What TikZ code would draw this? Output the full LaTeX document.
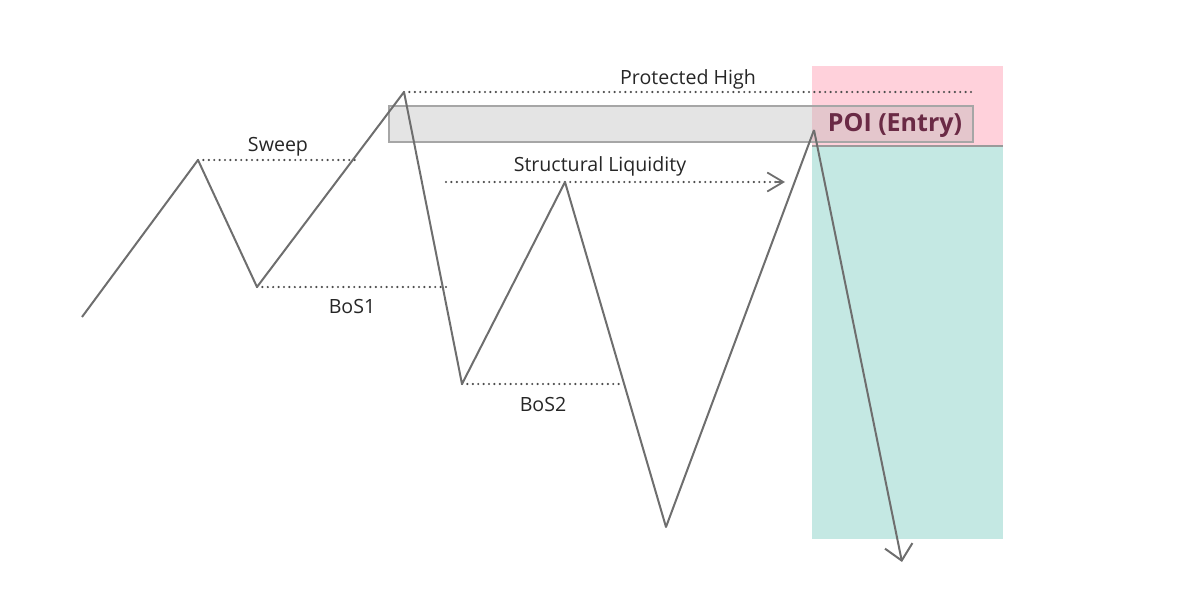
\documentclass[tikz,border=0pt]{standalone}
\usepackage{fontspec}
\setsansfont{Open Sans}
\usetikzlibrary{arrows.meta,positioning,calc}
\definecolor{swingc}{HTML}{6E6E6E}
\definecolor{poipink}{HTML}{FFD1DB}
\definecolor{tpteal}{HTML}{C4E8E3}
\definecolor{poitext}{HTML}{6A2A45}
\tikzset{
  swing/.style={draw=swingc, line width=1pt, line join=round},
  level/.style={draw=black!70, line width=1.2pt, line cap=round, dash pattern=on 0pt off 2.7pt},
  barb/.style={-{Straight Barb[length=7.5pt,width=14pt]}},
  lbl/.style={font=\sffamily\fontsize{9.8}{11}\selectfont, text=black!85, inner sep=1pt}
}
\begin{document}
\begin{tikzpicture}[x=0.5pt, y=-0.5pt]
\useasboundingbox (0,0) rectangle (1179,589);
% zones
\fill[poipink] (812,66) rectangle (1003,146);
\fill[tpteal] (812,146) rectangle (1003,539);
\draw[swingc!70, line width=1pt] (812,146) -- (1003,146);
\filldraw[fill=gray!60, fill opacity=0.35, draw=gray!70, line width=0.9pt] (389,106) rectangle (973,142);
\node[font=\sffamily\bfseries\fontsize{12.5}{14}\selectfont, text=poitext] (poi) at (895,125) {POI (Entry)};
% swing points
\coordinate (p0) at (82,317);
\coordinate (p1) at (198,160);
\coordinate (p2) at (257,287);
\coordinate (p3) at (404,92);
\coordinate (p4) at (462,384);
\coordinate (p5) at (565,182);
\coordinate (p6) at (666,527);
\coordinate (p7) at (814,130);
\coordinate (p8) at (902,562);
% levels
\coordinate (sweepEnd) at (358,160);
\coordinate (bosOneEnd) at (446,287);
\coordinate (highEnd) at (972,92);
\coordinate (liqStart) at (446,182);
\coordinate (liqEnd) at (785,182);
\coordinate (bosTwoEnd) at (622,384);
\draw[level] (p1) -- (sweepEnd);
\draw[level] (p2) -- (bosOneEnd);
\draw[level] (p3) -- (highEnd);
\draw[level] (p4) -- (bosTwoEnd);
\draw[level] (liqStart) -- ($(liqEnd)+(-4,0)$);
\draw[swing, -{Straight Barb[length=8pt,width=9.5pt]}, line width=0.9pt] ($(liqEnd)+(-10,0)$) -- (liqEnd);
% price path
\draw[swing] (p0) -- (p1) -- (p2) -- (p3) -- (p4) -- (p5) -- (p6) -- (p7);
\draw[swing, barb] (p7) -- (p8);
% labels
\node[lbl] (sweep) at (278,147) {Sweep};
\node[lbl] (bosOne) at (352,306) {BoS1};
\node[lbl] (protHigh) at (688,79) {Protected High};
\node[lbl] (strucLiq) at (600,166) {Structural Liquidity};
\node[lbl] (bosTwo) at (543,404) {BoS2};
\end{tikzpicture}
\end{document}
